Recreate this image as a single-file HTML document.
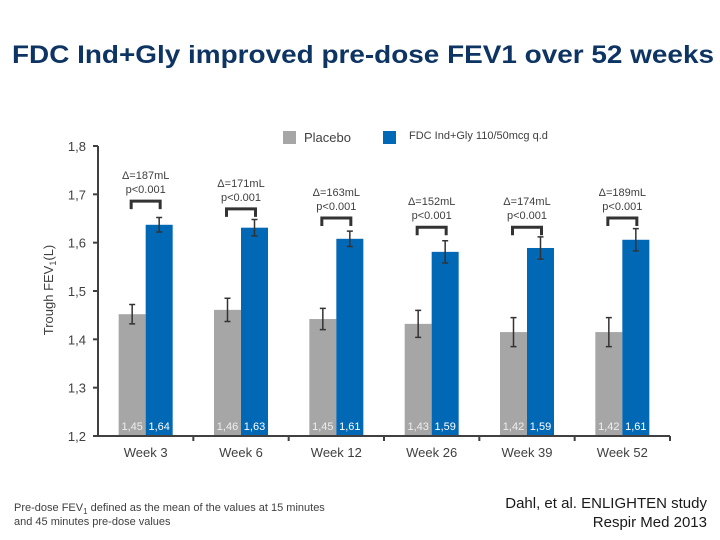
<!DOCTYPE html>
<html><head><meta charset="utf-8"><style>
body{margin:0;background:#fff;}
svg{display:block;font-family:"Liberation Sans",sans-serif;}
</style></head><body>
<svg id="chart" width="720" height="540" viewBox="0 0 720 540" xmlns="http://www.w3.org/2000/svg">
<text x="12" y="63" font-size="25" font-weight="bold" fill="#0d3462" textLength="702" lengthAdjust="spacingAndGlyphs">FDC Ind+Gly improved pre-dose FEV1 over 52 weeks</text>
<g>
<rect x="283" y="131" width="13" height="13" fill="#a6a6a6"/>
<text x="304" y="142" font-size="13" fill="#404040">Placebo</text>
<rect x="383" y="131" width="13" height="13" fill="#0068b5"/>
<text x="409" y="139" font-size="11" fill="#404040">FDC Ind+Gly 110/50mcg q.d</text>
</g>
<text transform="translate(53,290) rotate(-90)" text-anchor="middle" font-size="13" fill="#404040">Trough FEV<tspan font-size="9" dy="3">1</tspan><tspan dy="-3">(L)</tspan></text>
<g id="plot"></g>
<text x="14" y="511" font-size="11" fill="#404040">Pre-dose FEV<tspan font-size="8" dy="3">1</tspan><tspan dy="-3"> defined as the mean of the values at 15 minutes</tspan></text>
<text x="14" y="525" font-size="11" fill="#404040">and 45 minutes pre-dose values</text>
<text x="707" y="508" text-anchor="end" font-size="15" fill="#1a1a1a">Dahl, et al. ENLIGHTEN study</text>
<text x="707" y="527" text-anchor="end" font-size="15" fill="#1a1a1a">Respir Med 2013</text>
</svg>
<script>
const categories = ["Week 3","Week 6","Week 12","Week 26","Week 39","Week 52"];
const placebo = [1.452,1.461,1.442,1.432,1.415,1.415];
const fdc = [1.637,1.631,1.608,1.581,1.589,1.606];
const placeboErr = [0.02,0.024,0.022,0.028,0.03,0.03];
const fdcErr = [0.015,0.017,0.016,0.023,0.023,0.023];
const placeboLabels = ["1,45","1,46","1,45","1,43","1,42","1,42"];
const fdcLabels = ["1,64","1,63","1,61","1,59","1,59","1,61"];
const deltaLabels = ["Δ=187mL","Δ=171mL","Δ=163mL","Δ=152mL","Δ=174mL","Δ=189mL"];
const pLabels = ["p<0.001","p<0.001","p<0.001","p<0.001","p<0.001","p<0.001"];
const bracketLevels = [1.686,1.670,1.651,1.632,1.632,1.651];
const yTicks = [1.2,1.3,1.4,1.5,1.6,1.7,1.8];
const yTickLabels = ["1,2","1,3","1,4","1,5","1,6","1,7","1,8"];

const NS="http://www.w3.org/2000/svg";
const g=document.getElementById('plot');
const x0=98,x1=670,yTop=146,yBot=436,vMin=1.2,vMax=1.8;
const y=v=>yBot-(v-vMin)/(vMax-vMin)*(yBot-yTop);
const band=(x1-x0)/categories.length;
const xc=i=>x0+band*(i+0.5);
const bw=27;
function mk(tag,attrs){const e=document.createElementNS(NS,tag);for(const k in attrs)e.setAttribute(k,attrs[k]);g.appendChild(e);return e;}

let e;
yTicks.forEach((t,i)=>{
  e=mk('line',{x1:x0-5,x2:x0,y1:y(t),y2:y(t),stroke:'#404040','stroke-width':2});
  
  
  e=mk('text',{x:x0-12,y:y(t)+5,'text-anchor':'end','font-size':13,fill:'#404040'});
  e.textContent=yTickLabels[i];
  
  
});
categories.forEach((c,i)=>{
  const cx=xc(i);
  e=mk('rect',{x:cx-bw,y:y(placebo[i]),width:bw,height:yBot-y(placebo[i]),fill:'#a6a6a6'});
  
  
  e=mk('rect',{x:cx,y:y(fdc[i]),width:bw,height:yBot-y(fdc[i]),fill:'#0068b5'});
  
  
  [[cx-bw/2,placebo[i],placeboErr[i]],[cx+bw/2,fdc[i],fdcErr[i]]].forEach(([ex,v,er])=>{
    const p=`M${ex},${y(v+er)}V${y(v-er)}M${ex-3},${y(v+er)}H${ex+3}M${ex-3},${y(v-er)}H${ex+3}`;
    e=mk('path',{d:p,stroke:'#333',fill:'none','stroke-width':1.5});
    
    
  });
  e=mk('text',{x:cx-bw/2,y:yBot-6,'text-anchor':'middle','font-size':11,fill:'#eeeeee'});
  e.textContent=placeboLabels[i];
  
  
  e=mk('text',{x:cx+bw/2,y:yBot-6,'text-anchor':'middle','font-size':11,fill:'#ffffff'});
  e.textContent=fdcLabels[i];
  
  
  const by=y(bracketLevels[i]);
  e=mk('path',{d:`M${cx-bw/2-1},${by+8}V${by}H${cx+bw/2+1}V${by+8}`,stroke:'#333',fill:'none','stroke-width':3});
  
  
  e=mk('text',{x:cx,y:by-22,'text-anchor':'middle','font-size':11,fill:'#404040'});
  e.textContent=deltaLabels[i];
  
  
  e=mk('text',{x:cx,y:by-8,'text-anchor':'middle','font-size':11,fill:'#404040'});
  e.textContent=pLabels[i];
  
  
  e=mk('text',{x:cx,y:yBot+21,'text-anchor':'middle','font-size':13,fill:'#404040'});
  e.textContent=c;
  
  
  e=mk('line',{x1:x0+band*(i+1),x2:x0+band*(i+1),y1:yBot,y2:yBot+5,stroke:'#404040','stroke-width':2});
  
  
});
e=mk('line',{x1:x0,x2:x0,y1:yTop,y2:yBot,stroke:'#404040','stroke-width':2});


e=mk('line',{x1:x0-5,x2:x1,y1:yBot,y2:yBot,stroke:'#404040','stroke-width':2});


</script>
</body></html>
